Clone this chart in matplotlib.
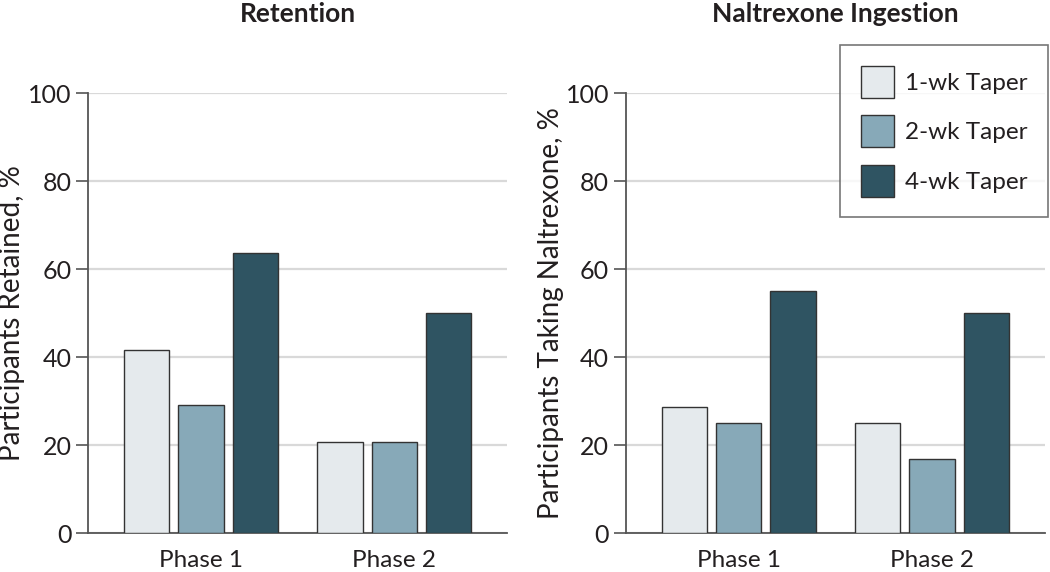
import matplotlib
matplotlib.use("Agg")
import matplotlib.pyplot as plt
import numpy as np

phases = ["Phase 1", "Phase 2"]
series = ["1-wk Taper", "2-wk Taper", "4-wk Taper"]
retention = {
    "1-wk Taper": [41.7, 20.8],
    "2-wk Taper": [29.2, 20.8],
    "4-wk Taper": [63.6, 50.0],
}
naltrexone = {
    "1-wk Taper": [28.8, 25.0],
    "2-wk Taper": [25.0, 16.9],
    "4-wk Taper": [55.0, 50.0],
}
titles = ["Retention", "Naltrexone Ingestion"]
ylabels = ["Participants Retained, %", "Participants Taking Naltrexone, %"]
yticks = [0, 20, 40, 60, 80, 100]
colors = ["#e5eaed", "#87a9b8", "#2f5462"]

plt.rcParams["font.family"] = ["Lato", "DejaVu Sans"]
TXT = "#231f20"
SPINE = "#555555"

fig = plt.figure(figsize=(10.5, 5.72), dpi=100)
W, H = 1050, 572
ax_bottom = (H - 533.3) / H
ax_height = (533.3 - 93.3) / H
axes = [
    fig.add_axes([88.3 / W, ax_bottom, (507 - 88.3) / W, ax_height]),
    fig.add_axes([625.7 / W, ax_bottom, (1045 - 625.7) / W, ax_height]),
]
label_x = [-0.150, -0.146]

step = 0.281
width = 0.234
x = np.arange(len(phases))
handles = []
for k, (ax, data, title, ylab) in enumerate(zip(axes, [retention, naltrexone], titles, ylabels)):
    for i, s in enumerate(series):
        b = ax.bar(x + (i - 1) * step, data[s], width=width, color=colors[i],
                   edgecolor="#333333", linewidth=1.0, label=s, zorder=3)
        if k == 0:
            handles.append(b)
    ax.set_xlim(-0.583, 1.583)
    ax.set_ylim(0, 100)
    ax.set_yticks(yticks)
    ax.set_yticklabels([str(t) for t in yticks], fontsize=18, color=TXT)
    ax.set_xticks(x)
    ax.set_xticklabels(phases, fontsize=17.5, color=TXT)
    ax.tick_params(axis="x", length=0, pad=12)
    ax.tick_params(axis="y", length=9, width=1.2, color=SPINE, pad=3)
    ax.yaxis.grid(True, color="#d9d9d9", linewidth=1.6, zorder=0)
    ax.set_axisbelow(True)
    for sp in ["top", "right"]:
        ax.spines[sp].set_visible(False)
    for sp in ["left", "bottom"]:
        ax.spines[sp].set_color(SPINE)
        ax.spines[sp].set_linewidth(1.3)
    ax.set_ylabel(ylab, fontsize=20, color=TXT)
    ax.yaxis.set_label_coords(label_x[k], 0.5)
    ax.text(0.5, 1.18, title, transform=ax.transAxes, ha="center", va="center",
            fontsize=19, fontweight="bold", color=TXT)

leg = fig.legend(handles=handles, labels=series, loc="upper right",
                 bbox_to_anchor=(1047.7 / W, (H - 45) / H), frameon=True,
                 fancybox=False, fontsize=17.5, handlelength=1.36, handleheight=1.65,
                 handletextpad=0.45, labelspacing=0.72, borderpad=0.85,
                 borderaxespad=0)
leg.get_frame().set_edgecolor(SPINE)
leg.get_frame().set_linewidth(1.2)
for t in leg.get_texts():
    t.set_color(TXT)

fig.savefig("out.png", dpi=100)
